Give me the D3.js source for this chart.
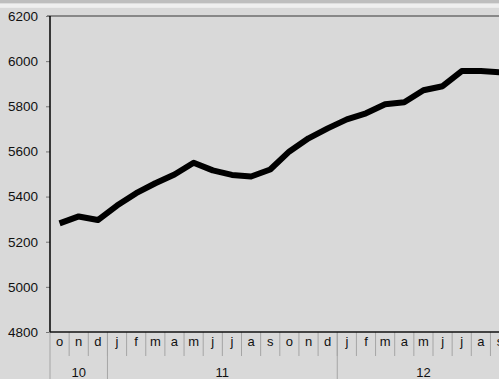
<!DOCTYPE html>
<html>
<head>
<meta charset="utf-8">
<script src="https://cdn.jsdelivr.net/npm/d3@7"></script>
<style>
  body { margin: 0; background: #d9d9d9; }
  svg { display: block; font-family: "Liberation Sans", Arial, sans-serif; }
  .yTick { font-size: 13.5px; fill: #111; }
  .monthText { font-size: 13px; fill: #111; }
  .yearText { font-size: 13px; fill: #111; }
</style>
</head>
<body>
<svg id="chart" width="499" height="379"></svg>
<script>
// months from oct 2010 to sep 2012
var months = ["o","n","d","j","f","m","a","m","j","j","a","s","o","n","d","j","f","m","a","m","j","j","a","s"];
var years = [{label: "10", first: 0, count: 3}, {label: "11", first: 3, count: 12}, {label: "12", first: 15, count: 9}];
var values = [5281, 5312, 5296, 5360, 5415, 5459, 5498, 5550, 5516, 5496, 5489, 5520,
              5600, 5658, 5702, 5742, 5769, 5809, 5818, 5871, 5889, 5956, 5956, 5950];
var yTicks = [4800, 5000, 5200, 5400, 5600, 5800, 6000, 6200];

var svg = d3.select("#chart");
var border_left = 50, border_top = 16, plot_bottom = 332;
var band_width = 19.15;

// top strip
svg.append("rect").attr("x", 0).attr("y", 0).attr("width", 499).attr("height", 3.5).attr("fill", "#bebebe");
svg.append("rect").attr("x", 0).attr("y", 3.5).attr("width", 499).attr("height", 4.3).attr("fill", "#efefef");

var x = d3.scaleBand()
    .domain(d3.range(months.length))
    .range([border_left, border_left + band_width * months.length])
    .paddingInner(0).paddingOuter(0);

var y = d3.scaleLinear()
    .domain([4800, 6200])
    .range([plot_bottom, border_top]);

// top border
svg.append("line")
    .attr("x1", border_left - 3).attr("x2", 499)
    .attr("y1", y(6200)).attr("y2", y(6200))
    .attr("stroke", "#888").attr("stroke-width", 2);

// y axis
var yAxis = d3.axisLeft(y).tickValues(yTicks).tickSize(4).tickPadding(8).tickFormat(d3.format("d"));
var gy = svg.append("g").attr("transform", "translate(" + border_left + ",0)").call(yAxis);
gy.select(".domain").remove();
gy.selectAll(".tick line").attr("stroke", "#777");
gy.selectAll(".tick text").attr("class", "yTick").attr("font-family", null).attr("font-size", null).attr("fill", null);

svg.append("line")
    .attr("x1", border_left).attr("x2", border_left)
    .attr("y1", border_top).attr("y2", plot_bottom)
    .attr("stroke", "#000").attr("stroke-width", 1.5);

// month separators
svg.selectAll(".monthSep")
    .data(d3.range(1, months.length))
    .enter().append("line")
    .attr("class", "monthSep")
    .attr("x1", function(d) { return x(d); })
    .attr("x2", function(d) { return x(d); })
    .attr("y1", plot_bottom).attr("y2", 356)
    .attr("stroke", "#a5a5a5").attr("stroke-width", 1);

// year separators
svg.selectAll(".yearSep")
    .data(years)
    .enter().append("line")
    .attr("class", "yearSep")
    .attr("x1", function(d) { return x(d.first); })
    .attr("x2", function(d) { return x(d.first); })
    .attr("y1", plot_bottom).attr("y2", 379)
    .attr("stroke", "#a5a5a5").attr("stroke-width", 1);

// month labels
svg.selectAll(".monthText")
    .data(months)
    .enter().append("text")
    .attr("class", "monthText")
    .attr("text-anchor", "middle")
    .attr("x", function(d, i) { return x(i) + x.bandwidth() / 2; })
    .attr("y", 346)
    .text(function(d) { return d; });

// year labels
svg.selectAll(".yearText")
    .data(years)
    .enter().append("text")
    .attr("class", "yearText")
    .attr("text-anchor", "middle")
    .attr("x", function(d) { return x(d.first) + d.count * x.bandwidth() / 2; })
    .attr("y", 377)
    .text(function(d) { return d.label; });

// x axis line
svg.append("line")
    .attr("x1", border_left).attr("x2", 499)
    .attr("y1", plot_bottom).attr("y2", plot_bottom)
    .attr("stroke", "#111").attr("stroke-width", 1.5);

// data line
var line = d3.line()
    .x(function(d, i) { return x(i) + x.bandwidth() / 2; })
    .y(function(d) { return y(d); });

svg.append("path")
    .datum(values)
    .attr("d", line)
    .attr("fill", "none")
    .attr("stroke", "#000")
    .attr("stroke-width", 6)
    .attr("stroke-linejoin", "round")
    .attr("stroke-linecap", "butt");
</script>
</body>
</html>
